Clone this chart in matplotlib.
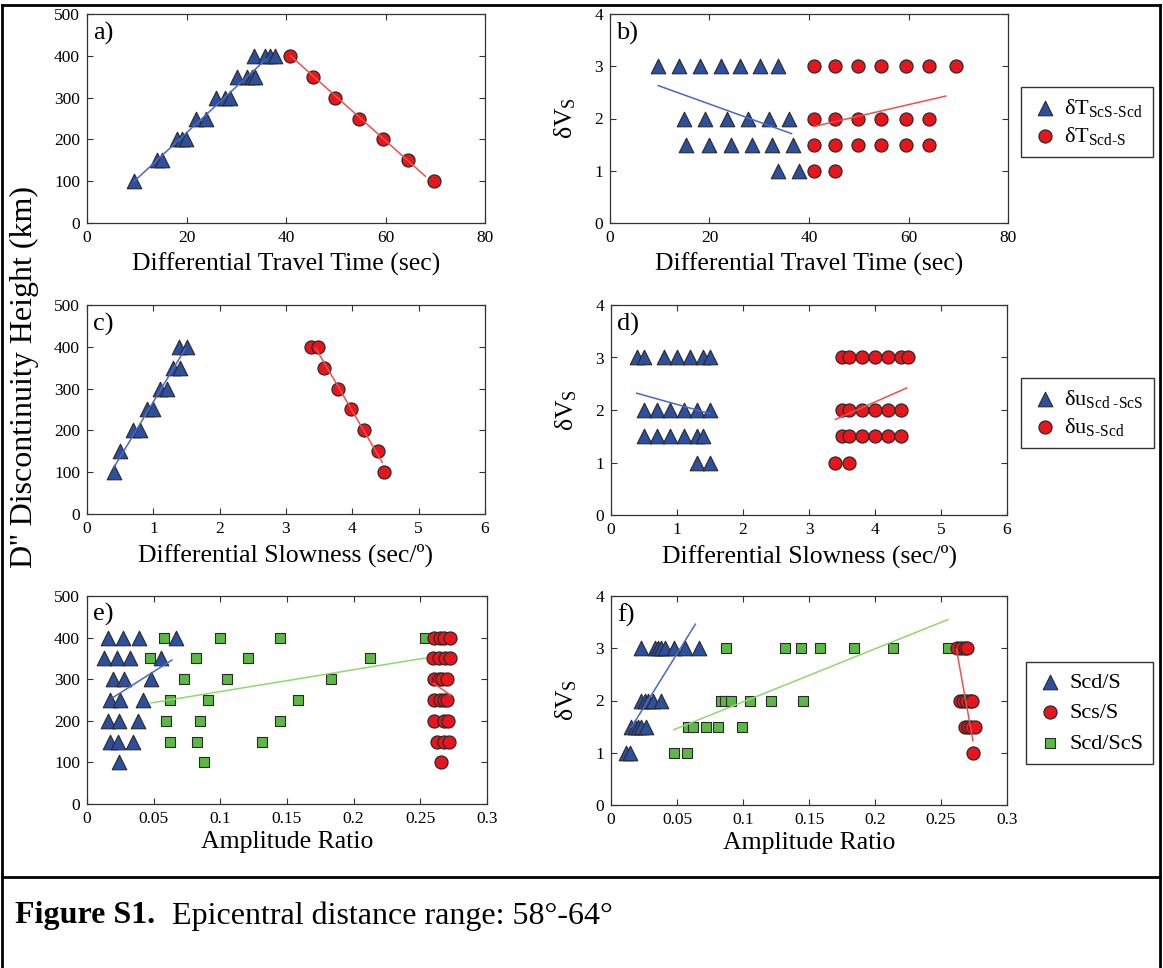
import numpy as np
import matplotlib
matplotlib.use("Agg")
import matplotlib.pyplot as plt
from matplotlib.lines import Line2D

plt.rcParams['font.family'] = ['Liberation Serif', 'DejaVu Serif']
plt.rcParams['mathtext.fontset'] = 'custom'
plt.rcParams['mathtext.rm'] = 'Liberation Serif'
plt.rcParams['mathtext.it'] = 'Liberation Serif:italic'

# ---- panel a: height vs differential travel time
a_tri_x = [9.5, 14.0, 15.0, 18.0, 19.0, 19.9, 22.0, 23.9, 26.0, 27.7, 28.7,
           30.1, 32.1, 33.1, 33.7, 33.6, 35.7, 36.7, 37.8]
a_tri_y = [100, 150, 150, 200, 200, 200, 250, 250, 300, 300, 300,
           350, 350, 350, 350, 400, 400, 400, 400]
a_cir_x = [40.9, 45.4, 49.9, 54.7, 59.5, 64.5, 69.7]
a_cir_y = [400, 350, 300, 250, 200, 150, 100]
a_fit_blue = ([9.5, 36.0], [100, 392])
a_fit_red = ([40.9, 68.0], [400, 112])

# ---- panel b: dVs vs differential travel time
b_tri_x = [9.7, 13.9, 18.0, 22.3, 26.2, 30.2, 33.7,
           14.9, 19.1, 23.5, 27.8, 32.0, 35.9,
           15.3, 19.8, 24.3, 28.5, 32.5, 36.8,
           33.8, 37.9]
b_tri_y = [3]*7 + [2]*6 + [1.5]*6 + [1]*2
b_cir_x = [41, 45.3, 49.9, 54.5, 59.4, 64.2, 69.5,
           41, 45.3, 49.9, 54.5, 59.4, 64.2,
           41, 45.3, 49.9, 54.5, 59.4, 64.2,
           41, 45.3]
b_cir_y = [3]*7 + [2]*6 + [1.5]*6 + [1]*2
b_fit_blue = ([9.7, 36.5], [2.63, 1.71])
b_fit_red = ([41.1, 67.5], [1.85, 2.43])

# ---- panel c: height vs differential slowness
c_tri_x = [0.40, 0.50, 0.70, 0.80, 0.90, 1.00, 1.10, 1.20, 1.30, 1.40, 1.39, 1.50]
c_tri_y = [100, 150, 200, 200, 250, 250, 300, 300, 350, 350, 400, 400]
c_cir_x = [3.38, 3.48, 3.58, 3.78, 3.98, 4.18, 4.38, 4.48]
c_cir_y = [400, 400, 350, 300, 250, 200, 150, 100]
c_fit_blue = ([0.40, 1.48], [110, 395])
c_fit_red = ([3.45, 4.45], [396, 124])

# ---- panel d: dVs vs differential slowness
d_tri_x = [0.4, 0.5, 0.8, 1.0, 1.2, 1.4, 1.5,
           0.5, 0.7, 0.9, 1.1, 1.3, 1.5,
           0.5, 0.7, 0.9, 1.1, 1.3, 1.4,
           1.3, 1.5]
d_tri_y = [3]*7 + [2]*6 + [1.5]*6 + [1]*2
d_cir_x = [3.5, 3.6, 3.8, 4.0, 4.2, 4.4, 4.5,
           3.5, 3.6, 3.8, 4.0, 4.2, 4.4,
           3.5, 3.6, 3.8, 4.0, 4.2, 4.4,
           3.4, 3.6]
d_cir_y = [3]*7 + [2]*6 + [1.5]*6 + [1]*2
d_fit_blue = ([0.39, 1.5], [2.32, 1.93])
d_fit_red = ([3.40, 4.48], [1.82, 2.42])

# ---- panel e: height vs amplitude ratio
e_tri_x = [0.016, 0.027, 0.039, 0.067,
           0.013, 0.0225, 0.0325, 0.0555,
           0.0195, 0.028, 0.048,
           0.017, 0.025, 0.042,
           0.016, 0.024, 0.038,
           0.017, 0.023, 0.0345,
           0.024]
e_tri_y = [400]*4 + [350]*4 + [300]*3 + [250]*3 + [200]*3 + [150]*3 + [100]
e_sq_x = [0.058, 0.0995, 0.1445, 0.2537,
          0.0475, 0.0817, 0.1207, 0.2125,
          0.0725, 0.105, 0.1832,
          0.062, 0.0905, 0.158,
          0.0595, 0.085, 0.1445,
          0.062, 0.0825, 0.131,
          0.0875]
e_sq_y = [400]*4 + [350]*4 + [300]*3 + [250]*3 + [200]*3 + [150]*3 + [100]
e_cir_x = [0.26, 0.2645, 0.2675, 0.2725,
           0.2595, 0.2637, 0.2682, 0.272,
           0.26, 0.2637, 0.2662, 0.27,
           0.26, 0.265, 0.268, 0.27,
           0.26, 0.2675, 0.2705,
           0.2625, 0.268, 0.2712,
           0.2657]
e_cir_y = [400]*4 + [350]*4 + [300]*4 + [250]*4 + [200]*3 + [150]*3 + [100]
e_fit_blue = ([0.0195, 0.0637], [256, 346])
e_fit_green = ([0.048, 0.2537], [243, 351])
e_fit_red = ([0.26, 0.2725], [290, 262])

# ---- panel f: dVs vs amplitude ratio
f_tri_x = [0.023, 0.033, 0.0356, 0.038, 0.041, 0.048, 0.056, 0.0664,
           0.023, 0.0255, 0.028, 0.0318, 0.0377,
           0.0155, 0.018, 0.0205, 0.023, 0.0263,
           0.0117, 0.0147]
f_tri_y = [3]*8 + [2]*5 + [1.5]*5 + [1]*2
f_sq_x = [0.0869, 0.132, 0.144, 0.158, 0.184, 0.2136, 0.2553,
          0.083, 0.086, 0.0912, 0.1056, 0.121, 0.1455,
          0.0583, 0.0621, 0.0723, 0.081, 0.0995,
          0.0475, 0.0576]
f_sq_y = [3]*7 + [2]*6 + [1.5]*5 + [1]*2
f_cir_x = [0.2624, 0.2655, 0.268, 0.27,
           0.2642, 0.2667, 0.2692, 0.2717, 0.2738,
           0.268, 0.2705, 0.273, 0.2755,
           0.2742]
f_cir_y = [3]*4 + [2]*5 + [1.5]*4 + [1]
f_fit_blue = ([0.0155, 0.0639], [1.49, 3.46])
f_fit_green = ([0.0475, 0.2553], [1.44, 3.55])
f_fit_red = ([0.2617, 0.2742], [2.98, 1.23])

# styles
BLUE = '#2c4f9e'
RED = '#e8161c'
GREEN = '#5cb946'
EDGE = '#2a2a2a'
LBLUE = '#4a68c8'
LRED = '#f0504a'
LGREEN = '#8fd870'
tri_kw = dict(marker='^', s=110, c=BLUE, edgecolors=EDGE, linewidths=0.8, zorder=3)
cir_kw = dict(marker='o', s=88, c=RED, edgecolors=EDGE, linewidths=0.9, zorder=4)
sq_kw = dict(marker='s', s=46, c=GREEN, edgecolors=EDGE, linewidths=0.8, zorder=2)

W, H = 1163, 968
fig = plt.figure(figsize=(W / 100, H / 100), dpi=100)


def make_ax(left, top, right, bottom):
    ax = fig.add_axes([left / W, 1 - bottom / H, (right - left) / W, (bottom - top) / H])
    ax.tick_params(direction='in', top=True, right=True, labelsize=12.5, length=4,
                   width=0.8, color='#333333', pad=5)
    for sp in ax.spines.values():
        sp.set_linewidth(0.9)
        sp.set_color('#333333')
    return ax


def fitline(ax, fit, color):
    ax.plot(fit[0], fit[1], color=color, lw=1.1, zorder=5)


def add_legend(handles, labels, left, top, spacing):
    fig.legend(handles, labels, loc='upper left', bbox_to_anchor=(left / W, 1 - top / H),
               borderaxespad=0, fancybox=False, edgecolor='#333333', fontsize=16,
               handletextpad=0.2, borderpad=0.45, labelspacing=spacing,
               handlelength=1.3, framealpha=1)


LBL = 18.5
PL = 19
# a
ax = make_ax(87, 14, 485, 223)
ax.scatter(a_tri_x, a_tri_y, **tri_kw)
ax.scatter(a_cir_x, a_cir_y, **cir_kw)
fitline(ax, a_fit_blue, LBLUE)
fitline(ax, a_fit_red, LRED)
ax.set_xlim(0, 80); ax.set_ylim(0, 500)
ax.set_xticks([0, 20, 40, 60, 80]); ax.set_yticks([0, 100, 200, 300, 400, 500])
ax.set_xlabel('Differential Travel Time (sec)', fontsize=LBL, labelpad=5)
ax.text(0.015, 0.88, 'a)', transform=ax.transAxes, fontsize=PL)

# b
ax = make_ax(610, 14, 1008, 223)
h1 = ax.scatter(b_tri_x, b_tri_y, **tri_kw)
h2 = ax.scatter(b_cir_x, b_cir_y, **cir_kw)
fitline(ax, b_fit_blue, LBLUE)
fitline(ax, b_fit_red, LRED)
ax.set_xlim(0, 80); ax.set_ylim(0, 4)
ax.set_xticks([0, 20, 40, 60, 80]); ax.set_yticks([0, 1, 2, 3, 4])
ax.set_xlabel('Differential Travel Time (sec)', fontsize=LBL, labelpad=5)
ax.set_ylabel('δV$_{\\rm S}$', fontsize=LBL, labelpad=12)
ax.text(0.015, 0.88, 'b)', transform=ax.transAxes, fontsize=PL)
add_legend([h1, h2], ['δT$_{\\rm ScS\\text{-}Scd}$', 'δT$_{\\rm Scd\\text{-}S}$'], 1021, 87, 0.25)

# c
ax = make_ax(87, 305, 485, 514)
ax.scatter(c_tri_x, c_tri_y, **tri_kw)
ax.scatter(c_cir_x, c_cir_y, **cir_kw)
fitline(ax, c_fit_blue, LBLUE)
fitline(ax, c_fit_red, LRED)
ax.set_xlim(0, 6); ax.set_ylim(0, 500)
ax.set_xticks(range(7)); ax.set_yticks([0, 100, 200, 300, 400, 500])
ax.set_xlabel('Differential Slowness (sec/º)', fontsize=LBL, labelpad=5)
ax.set_ylabel("D'' Discontinuity Height (km)", fontsize=23)
ax.yaxis.set_label_coords(-0.12, 0.655)
ax.text(0.015, 0.88, 'c)', transform=ax.transAxes, fontsize=PL)

# d
ax = make_ax(611, 305, 1007, 515)
h1 = ax.scatter(d_tri_x, d_tri_y, **tri_kw)
h2 = ax.scatter(d_cir_x, d_cir_y, **cir_kw)
fitline(ax, d_fit_blue, LBLUE)
fitline(ax, d_fit_red, LRED)
ax.set_xlim(0, 6); ax.set_ylim(0, 4)
ax.set_xticks(range(7)); ax.set_yticks([0, 1, 2, 3, 4])
ax.set_xlabel('Differential Slowness (sec/º)', fontsize=LBL, labelpad=5)
ax.set_ylabel('δV$_{\\rm S}$', fontsize=LBL, labelpad=12)
ax.text(0.015, 0.88, 'd)', transform=ax.transAxes, fontsize=PL)
add_legend([h1, h2], ['δu$_{\\rm Scd\\ \\text{-}ScS}$', 'δu$_{\\rm S\\text{-}Scd}$'], 1021, 378, 0.25)

# e
ax = make_ax(87, 596, 487, 804)
ax.scatter(e_sq_x, e_sq_y, **sq_kw)
ax.scatter(e_tri_x, e_tri_y, **tri_kw)
ax.scatter(e_cir_x, e_cir_y, **cir_kw)
fitline(ax, e_fit_blue, LBLUE)
fitline(ax, e_fit_green, LGREEN)
fitline(ax, e_fit_red, LRED)
ax.set_xlim(0, 0.3); ax.set_ylim(0, 500)
ax.set_xticks([0, 0.05, 0.1, 0.15, 0.2, 0.25, 0.3])
ax.set_xticklabels(['0', '0.05', '0.1', '0.15', '0.2', '0.25', '0.3'])
ax.set_yticks([0, 100, 200, 300, 400, 500])
ax.set_xlabel('Amplitude Ratio', fontsize=LBL, labelpad=3)
ax.text(0.015, 0.88, 'e)', transform=ax.transAxes, fontsize=PL)

# f
ax = make_ax(611, 596, 1007, 805)
h3 = ax.scatter(f_sq_x, f_sq_y, **sq_kw)
h1 = ax.scatter(f_tri_x, f_tri_y, **tri_kw)
h2 = ax.scatter(f_cir_x, f_cir_y, **cir_kw)
fitline(ax, f_fit_blue, LBLUE)
fitline(ax, f_fit_green, LGREEN)
fitline(ax, f_fit_red, LRED)
ax.set_xlim(0, 0.3); ax.set_ylim(0, 4)
ax.set_xticks([0, 0.05, 0.1, 0.15, 0.2, 0.25, 0.3])
ax.set_xticklabels(['0', '0.05', '0.1', '0.15', '0.2', '0.25', '0.3'])
ax.set_yticks([0, 1, 2, 3, 4])
ax.set_xlabel('Amplitude Ratio', fontsize=LBL, labelpad=3)
ax.set_ylabel('δV$_{\\rm S}$', fontsize=LBL, labelpad=12)
ax.text(0.015, 0.88, 'f)', transform=ax.transAxes, fontsize=PL)
add_legend([h1, h2, h3], ['Scd/S', 'Scs/S', 'Scd/ScS'], 1026, 662, 0.45)

# frame and caption
for xs, ys in [((2 / W, 2 / W), (0, 1 - 5 / H)),
               ((1160 / W, 1160 / W), (0, 1 - 5 / H)),
               ((2 / W, 1160 / W), (1 - 5 / H, 1 - 5 / H)),
               ((2 / W, 1160 / W), (1 - 877 / H, 1 - 877 / H))]:
    fig.add_artist(Line2D(xs, ys, color='black', lw=2, transform=fig.transFigure))
fig.text(15 / W, 1 - 916 / H, 'Figure S1.', fontsize=23, fontweight='bold', va='center')
fig.text(172 / W, 1 - 916 / H, 'Epicentral distance range: 58°-64°', fontsize=23, va='center')

fig.savefig('out.png', dpi=100)
